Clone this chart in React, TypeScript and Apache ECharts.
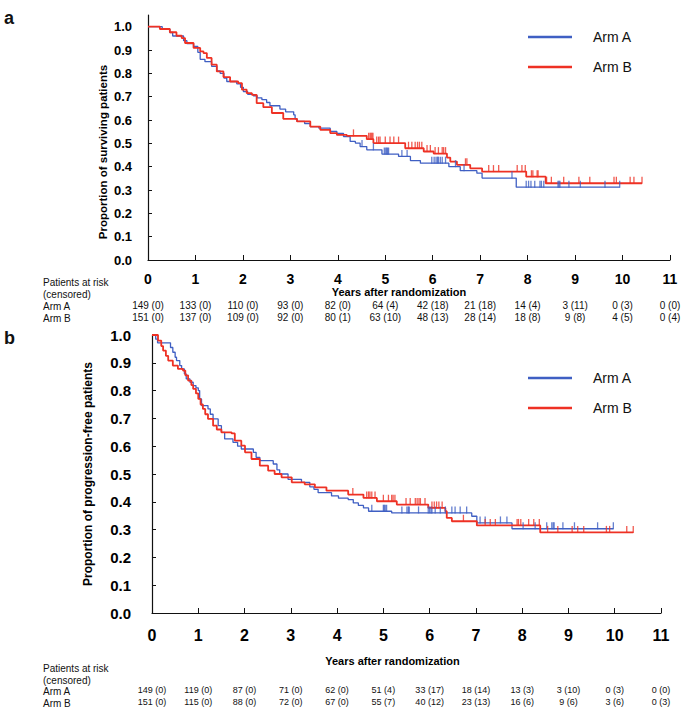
import React, { useEffect, useRef } from 'react';
import * as echarts from 'echarts';

// ---------- data ----------
const yTickValues = [0, 0.1, 0.2, 0.3, 0.4, 0.5, 0.6, 0.7, 0.8, 0.9, 1.0];
const yTickLabels = ['0.0', '0.1', '0.2', '0.3', '0.4', '0.5', '0.6', '0.7', '0.8', '0.9', '1.0'];

// Overall survival (panel a)
const osA_t = [0, 0.3, 0.46, 0.52, 0.75, 0.82, 0.96, 1.05, 1.1, 1.2, 1.34, 1.45, 1.52, 1.6, 1.66, 1.87, 1.95, 2.01, 2.1, 2.22, 2.3, 2.4, 2.5, 2.57, 2.78, 2.9, 3.07, 3.1, 3.14, 3.3, 3.42, 3.6, 3.84, 3.98, 4.12, 4.26, 4.37, 4.47, 4.61, 4.93, 5.28, 5.53, 5.74, 6.34, 6.58, 6.93, 7.04, 7.76];
const osA_s = [1.0, 0.99, 0.975, 0.96, 0.94, 0.927, 0.915, 0.89, 0.86, 0.85, 0.83, 0.81, 0.8, 0.78, 0.765, 0.755, 0.74, 0.722, 0.71, 0.704, 0.695, 0.687, 0.675, 0.661, 0.647, 0.635, 0.622, 0.605, 0.594, 0.585, 0.572, 0.565, 0.551, 0.543, 0.529, 0.508, 0.501, 0.486, 0.472, 0.454, 0.444, 0.426, 0.415, 0.4, 0.383, 0.372, 0.351, 0.312];
const osA_end = 9.94;
const osA_cens = [4.51, 4.75, 4.98, 5.01, 5.03, 5.05, 5.07, 5.35, 5.46, 5.98, 6.03, 6.07, 6.1, 6.12, 6.16, 6.2, 6.27, 6.48, 6.66, 7.67, 7.97, 8.02, 8.07, 8.15, 8.26, 8.29, 8.34, 8.64, 8.66, 8.68, 8.87, 9.11, 9.63, 9.94];

const osB_t = [0, 0.25, 0.46, 0.6, 0.71, 0.78, 0.96, 1.1, 1.17, 1.24, 1.34, 1.45, 1.59, 1.73, 1.9, 1.98, 2.08, 2.19, 2.29, 2.43, 2.61, 2.85, 3.14, 3.42, 3.63, 3.84, 3.98, 4.19, 4.61, 4.75, 5.42, 5.81, 6.02, 6.3, 6.37, 6.51, 6.79, 7.04, 7.97, 8.38];
const osB_s = [1.0, 0.99, 0.976, 0.961, 0.951, 0.93, 0.909, 0.894, 0.887, 0.866, 0.837, 0.808, 0.784, 0.765, 0.758, 0.73, 0.715, 0.708, 0.672, 0.655, 0.63, 0.605, 0.594, 0.572, 0.558, 0.544, 0.536, 0.532, 0.518, 0.501, 0.479, 0.465, 0.456, 0.439, 0.422, 0.408, 0.393, 0.379, 0.357, 0.329];
const osB_end = 10.41;
const osB_cens = [4.33, 4.65, 4.68, 4.7, 4.72, 4.74, 4.82, 4.86, 4.89, 5.0, 5.1, 5.18, 5.28, 5.49, 5.56, 5.63, 5.68, 5.72, 5.77, 5.88, 5.95, 6.05, 6.12, 6.2, 6.23, 6.27, 6.69, 6.72, 7.18, 7.28, 7.39, 7.78, 7.88, 7.95, 8.08, 8.11, 8.2, 8.22, 8.4, 8.5, 8.76, 9.08, 9.31, 9.82, 9.87, 10.16, 10.24, 10.41];

// Progression-free survival (panel b)
const pfsA_t = [0, 0.08, 0.12, 0.4, 0.45, 0.5, 0.53, 0.6, 0.64, 0.7, 0.74, 0.82, 0.89, 0.95, 1.0, 1.03, 1.07, 1.21, 1.26, 1.32, 1.43, 1.5, 1.57, 1.75, 1.85, 1.93, 2.19, 2.25, 2.33, 2.62, 2.7, 2.76, 2.94, 3.23, 3.41, 3.5, 3.59, 3.88, 4.03, 4.24, 4.35, 4.46, 4.57, 4.68, 5.18, 6.91, 7.02, 7.78];
const pfsA_s = [1.0, 0.985, 0.972, 0.955, 0.938, 0.92, 0.908, 0.89, 0.878, 0.86, 0.842, 0.83, 0.818, 0.81, 0.8, 0.77, 0.746, 0.734, 0.715, 0.698, 0.674, 0.65, 0.626, 0.614, 0.6, 0.59, 0.578, 0.56, 0.548, 0.536, 0.515, 0.5, 0.481, 0.47, 0.454, 0.445, 0.433, 0.421, 0.413, 0.408, 0.396, 0.387, 0.378, 0.366, 0.36, 0.348, 0.324, 0.303];
const pfsA_end = 9.97;
const pfsA_cens = [4.75, 5.0, 5.02, 5.04, 5.07, 5.4, 5.51, 5.54, 5.56, 5.76, 5.97, 6.0, 6.03, 6.05, 6.12, 6.23, 6.34, 6.48, 6.55, 6.66, 6.8, 7.09, 7.2, 7.53, 7.67, 8.02, 8.28, 8.53, 8.64, 8.67, 8.69, 8.88, 9.13, 9.63, 9.97];

const pfsB_t = [0, 0.13, 0.2, 0.24, 0.3, 0.35, 0.45, 0.56, 0.67, 0.72, 0.78, 0.85, 0.89, 0.95, 1.0, 1.05, 1.1, 1.15, 1.21, 1.32, 1.4, 1.5, 1.72, 1.79, 1.93, 2.01, 2.15, 2.33, 2.51, 2.65, 2.8, 3.02, 3.3, 3.52, 3.77, 4.24, 4.57, 4.86, 5.29, 5.97, 6.34, 6.37, 6.48, 7.02, 8.39];
const pfsB_s = [1.0, 0.98, 0.96, 0.944, 0.925, 0.908, 0.89, 0.878, 0.872, 0.855, 0.836, 0.82, 0.806, 0.79, 0.77, 0.75, 0.734, 0.715, 0.698, 0.674, 0.66, 0.65, 0.646, 0.62, 0.602, 0.578, 0.554, 0.53, 0.512, 0.5, 0.488, 0.47, 0.463, 0.452, 0.44, 0.426, 0.414, 0.402, 0.39, 0.378, 0.366, 0.342, 0.33, 0.315, 0.29];
const pfsB_end = 10.4;
const pfsB_cens = [4.34, 4.64, 4.68, 4.71, 4.75, 4.82, 5.0, 5.11, 5.18, 5.21, 5.25, 5.49, 5.58, 5.69, 5.73, 5.77, 5.8, 5.9, 6.05, 6.1, 6.15, 6.2, 6.27, 6.73, 7.2, 7.31, 7.42, 7.89, 7.92, 7.97, 8.14, 8.25, 8.37, 8.55, 8.77, 9.08, 9.2, 9.33, 9.82, 9.89, 10.26, 10.4];

// Numbers at risk (censored)
const riskOS_A = ['149 (0)', '133 (0)', '110 (0)', '93 (0)', '82 (0)', '64 (4)', '42 (18)', '21 (18)', '14 (4)', '3 (11)', '0 (3)', '0 (0)'];
const riskOS_B = ['151 (0)', '137 (0)', '109 (0)', '92 (0)', '80 (1)', '63 (10)', '48 (13)', '28 (14)', '18 (8)', '9 (8)', '4 (5)', '0 (4)'];
const riskPFS_A = ['149 (0)', '119 (0)', '87 (0)', '71 (0)', '62 (0)', '51 (4)', '33 (17)', '18 (14)', '13 (3)', '3 (10)', '0 (3)', '0 (0)'];
const riskPFS_B = ['151 (0)', '115 (0)', '88 (0)', '72 (0)', '67 (0)', '55 (7)', '40 (12)', '23 (13)', '16 (6)', '9 (6)', '3 (6)', '0 (3)'];

const BLUE = '#3f5fc3';
const RED = '#ee3124';
const FONT = "'Liberation Sans', Arial, sans-serif";

function toSteps(t: number[], s: number[], end: number) {
  const d = t.map((v, i) => [v, s[i]]);
  d.push([end, s[s.length - 1]]);
  return d;
}
function censorPts(c: number[], t: number[], s: number[]) {
  return c.map((x) => {
    let v = s[0];
    for (let i = 0; i < t.length; i++) if (t[i] <= x) v = s[i];
    return [x, v];
  });
}

export default function App() {
  const ref = useRef<HTMLDivElement>(null);
  useEffect(() => {
    document.body.style.margin = '0';
    const chart = echarts.init(ref.current!, null, { renderer: 'svg' });

    const mainX = (gridIndex: number, labelSize: number, margin: number, nameGap: number, shift: number) => ({
      type: 'value', gridIndex, min: 0, max: 11, interval: 1, position: 'bottom',
      axisLine: { show: true, lineStyle: { color: '#111', width: 1.2 } },
      axisTick: { show: true, inside: true, length: 5, lineStyle: { color: '#111' } },
      splitLine: { show: false },
      axisLabel: { fontFamily: FONT, fontWeight: 'bold', fontSize: labelSize, color: '#000', margin },
      name: 'Years after randomization', nameLocation: 'middle', nameGap,
      nameTextStyle: { fontFamily: FONT, fontWeight: 'bold', fontSize: 11, color: '#000', padding: [0, shift, 0, 0] },
    });
    const riskX = (gridIndex: number, offset: number, arr: string[], size: number) => ({
      type: 'value', gridIndex, min: 0, max: 11, interval: 1, position: 'bottom', offset,
      axisLine: { show: false }, axisTick: { show: false }, splitLine: { show: false },
      axisLabel: {
        margin: 0, fontFamily: FONT, fontSize: size, color: '#111',
        formatter: (v: number) => arr[Math.round(v)] ?? '',
      },
    });
    const yAx = (gridIndex: number, max: number, size: number, margin: number) => ({
      type: 'value', gridIndex, min: 0, max, interval: 0.1,
      axisLine: { show: true, lineStyle: { color: '#111', width: 1.2 } },
      axisTick: { show: true, inside: true, length: 4, customValues: yTickValues, lineStyle: { color: '#111' } },
      splitLine: { show: false },
      axisLabel: {
        customValues: yTickValues, fontFamily: FONT, fontWeight: 'bold', fontSize: size, color: '#000', margin,
        formatter: (v: number) => yTickLabels[Math.round(v * 10)] ?? '',
      },
    });
    const line = (name: string, color: string, width: number, data: number[][], xi: number, yi: number) => ({
      name, type: 'line', step: 'end', xAxisIndex: xi, yAxisIndex: yi, data,
      showSymbol: false, symbol: 'none', lineStyle: { color, width }, itemStyle: { color }, z: 3,
    });
    const cens = (name: string, color: string, data: number[][], xi: number, yi: number) => ({
      name, type: 'scatter', xAxisIndex: xi, yAxisIndex: yi, data,
      symbol: 'rect', symbolSize: [1.3, 7], symbolOffset: [0, -3], itemStyle: { color }, z: 4,
    });
    const legend = (top: number) => ({
      data: ['Arm A', 'Arm B'], orient: 'vertical', left: 528, top, padding: 0,
      icon: 'rect', itemWidth: 44, itemHeight: 2.5, itemGap: 14, selectedMode: false,
      textStyle: { fontFamily: FONT, fontSize: 14, color: '#111', padding: [0, 0, 0, 16], lineHeight: 16 },
    });
    const txt = (text: string, x: number, y: number, size: number, weight = 'normal') => ({
      type: 'text', x, y,
      style: { text, fontFamily: FONT, fontSize: size, fontWeight: weight, fill: '#111', textVerticalAlign: 'middle' },
    });

    chart.setOption({
      animation: false,
      backgroundColor: '#fff',
      grid: [
        { left: 148, right: 15, top: 15, bottom: 448, containLabel: false },
        { left: 152, right: 24, top: 335, bottom: 95, containLabel: false },
      ],
      legend: [legend(29), legend(370)],
      xAxis: [
        mainX(0, 14, 12, 25, 20),
        riskX(0, 40, riskOS_A, 10),
        riskX(0, 52, riskOS_B, 10),
        mainX(1, 16, 14, 42, 28),
        riskX(1, 72, riskPFS_A, 9),
        riskX(1, 84, riskPFS_B, 9),
      ],
      yAxis: [yAx(0, 1.05, 13, 16), yAx(1, 1.0, 15, 21)],
      series: [
        line('Arm A', BLUE, 1.3, toSteps(osA_t, osA_s, osA_end), 0, 0),
        line('Arm B', RED, 1.8, toSteps(osB_t, osB_s, osB_end), 0, 0),
        cens('Arm A censored', BLUE, censorPts(osA_cens, osA_t, osA_s), 0, 0),
        cens('Arm B censored', RED, censorPts(osB_cens, osB_t, osB_s), 0, 0),
        line('Arm A', BLUE, 1.3, toSteps(pfsA_t, pfsA_s, pfsA_end), 3, 1),
        line('Arm B', RED, 1.8, toSteps(pfsB_t, pfsB_s, pfsB_end), 3, 1),
        cens('Arm A censored', BLUE, censorPts(pfsA_cens, pfsA_t, pfsA_s), 3, 1),
        cens('Arm B censored', RED, censorPts(pfsB_cens, pfsB_t, pfsB_s), 3, 1),
      ],
      graphic: [
        txt('a', 4, 18, 18, 'bold'),
        txt('b', 4, 338, 18, 'bold'),
        { type: 'text', x: 103, y: 152, rotation: Math.PI / 2,
          style: { text: 'Proportion of surviving patients', fontFamily: FONT, fontSize: 11.5, fontWeight: 'bold', fill: '#000', textAlign: 'center', textVerticalAlign: 'middle' } },
        { type: 'text', x: 88, y: 474, rotation: Math.PI / 2,
          style: { text: 'Proportion of progression-free patients', fontFamily: FONT, fontSize: 12, fontWeight: 'bold', fill: '#000', textAlign: 'center', textVerticalAlign: 'middle' } },
        txt('Patients at risk', 43, 282, 10),
        txt('(censored)', 43, 294, 10),
        txt('Arm A', 43, 306, 10),
        txt('Arm B', 43, 318, 10),
        txt('Patients at risk', 43, 668, 10),
        txt('(censored)', 43, 680, 10),
        txt('Arm A', 43, 691, 10),
        txt('Arm B', 43, 703, 10),
      ],
    });
    return () => chart.dispose();
  }, []);
  return <div ref={ref} style={{ width: 685, height: 708 }} />;
}
